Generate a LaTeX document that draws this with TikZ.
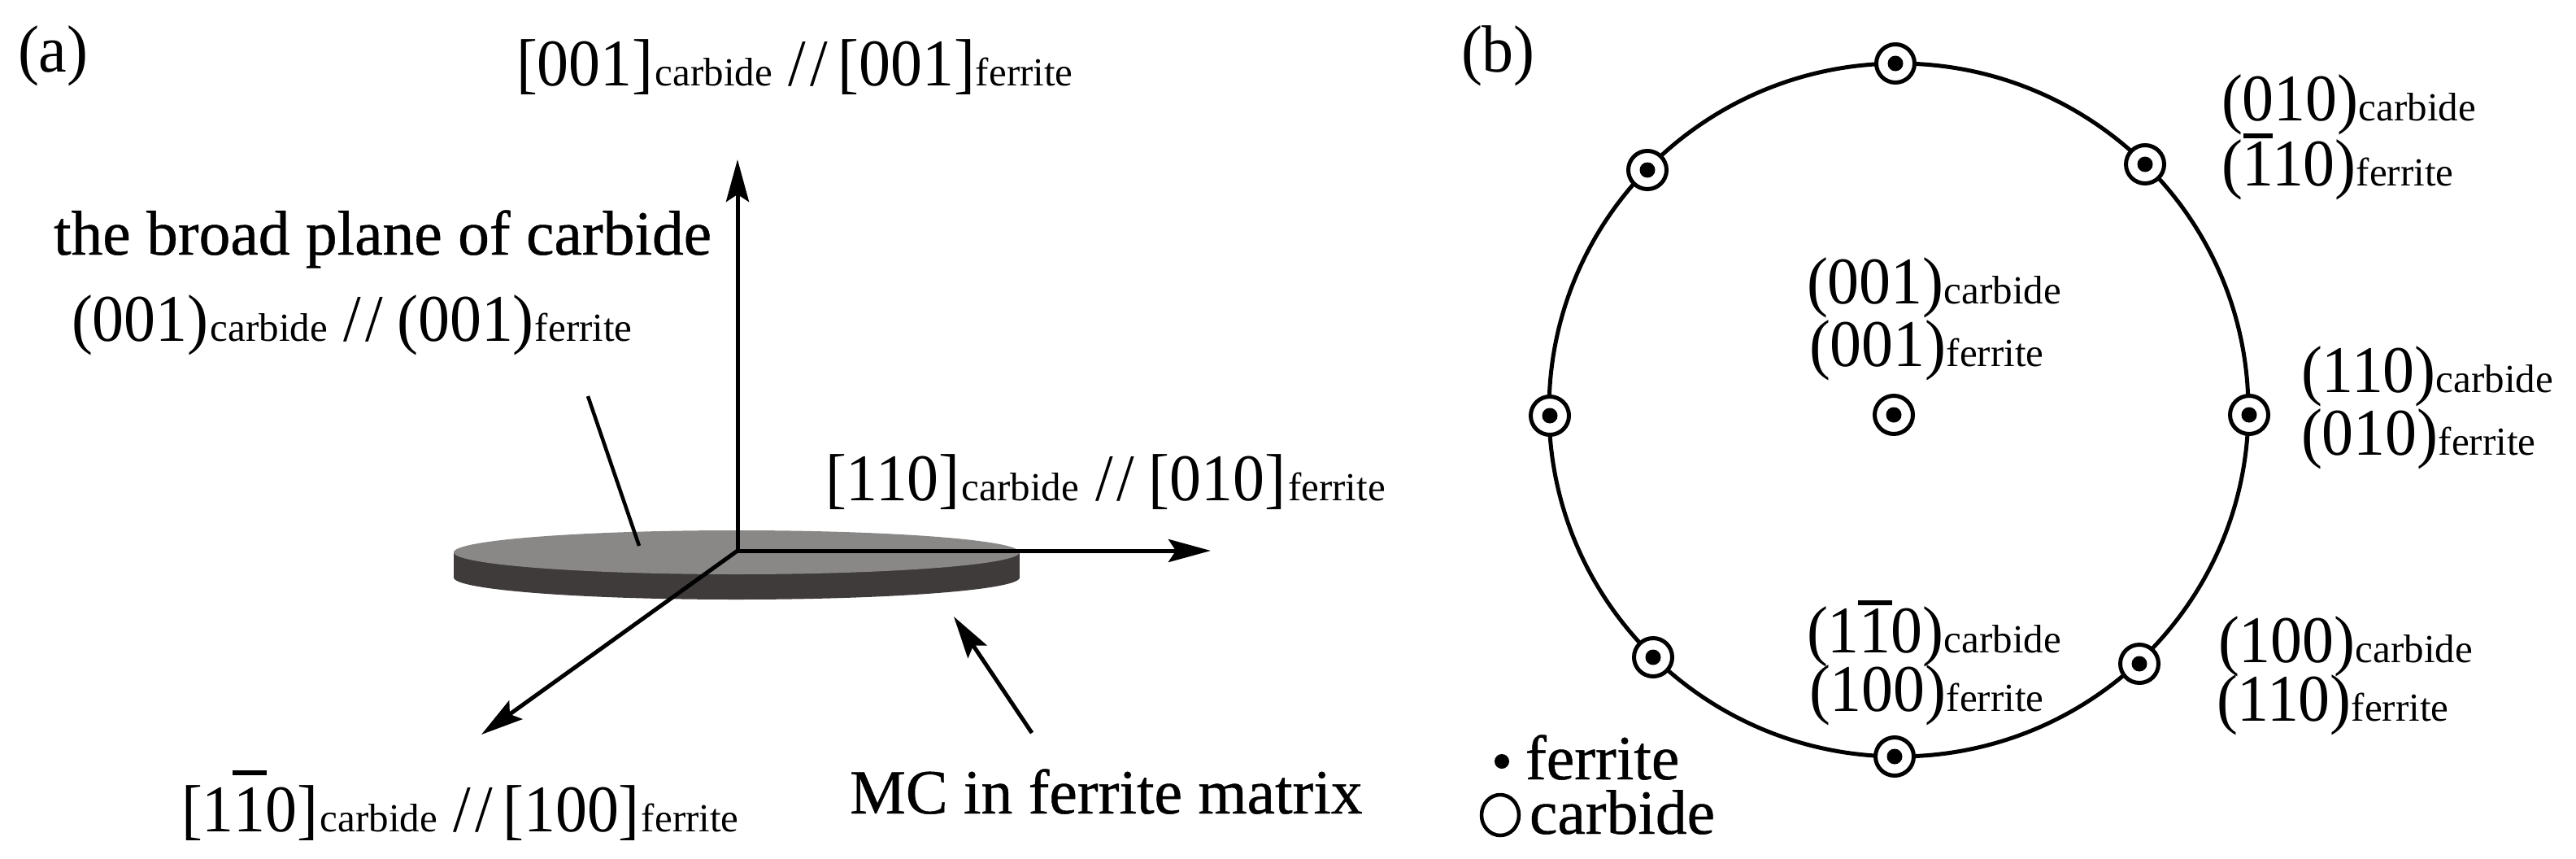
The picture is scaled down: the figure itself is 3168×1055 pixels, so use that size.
\documentclass[tikz,border=0pt]{standalone}
\usepackage{fontspec}
\usetikzlibrary{arrows.meta}
\setmainfont{Liberation Serif}
\newfontfamily\lblfont[FakeStretch=0.95]{Liberation Serif}
\newfontfamily\plnfont[FakeBold=0.6]{Liberation Serif}
\newcommand\mainsz{\lblfont\fontsize{82}{82}\selectfont}
\newcommand\plainsz{\plnfont\fontsize{77.5}{78}\selectfont}
\newcommand\subsz{\rmfamily\fontsize{49}{49}\selectfont}
\newcommand\cbd{{\subsz carbide}}
\newcommand\fer{{\subsz ferrite}}
\newcommand\dsl{\hspace{20pt}/\kern5pt/\hspace{17pt}}
% bar over a digit: raise of its lower edge, its width
\newcommand\ovr[3]{\makebox[0pt][l]{\hspace{\dimexpr19.5pt-#2/2\relax}\raisebox{#1}{\rule{#2}{6pt}}}#3}
\definecolor{disctop}{HTML}{8A8787}
\definecolor{discside}{HTML}{3F3B3B}
\tikzset{
  lbl/.style={anchor=base west,inner sep=0pt,outer sep=0pt,font=\mainsz},
  plain/.style={anchor=base west,inner sep=0pt,outer sep=0pt,font=\plainsz},
  pole/.style={circle,draw=black,fill=white,line width=5pt,minimum size=47pt,inner sep=0pt,
    path picture={\fill[black] (path picture bounding box.center) circle (9.5pt);}},
  axis/.style={line width=5pt,-{Stealth[length=52pt,width=28pt,inset=9pt]}},
  leader/.style={line width=4.5pt},
}
\begin{document}
\begin{tikzpicture}[x=1pt,y=-1pt]
\useasboundingbox (0,0) rectangle (3168,1055);
% panel a: disc
\fill[discside] (906,710) ellipse [x radius=348,y radius=27];
\fill[discside] (558,679) rectangle (1254,710);
\fill[disctop] (906,679) ellipse [x radius=348,y radius=27];
% axes
\coordinate (o) at (907,677);
\coordinate (zt) at (907,196);
\coordinate (xt) at (1489,677);
\coordinate (yt) at (592,903);
\coordinate (leadA) at (723,487);
\coordinate (leadB) at (786,671);
\coordinate (mcA) at (1269,901);
\coordinate (mcB) at (1173,758);
\draw[axis] (o) -- (zt);
\draw[axis] (o) -- (xt);
\draw[axis] (o) -- (yt);
\draw[leader] (leadA) -- (leadB);
\draw[axis] (mcA) -- (mcB);
% panel a: labels
\node[lbl] (la) at (22,88) {(a)};
\node[lbl] (l1) at (635,105) {[001]\hspace{2pt}\cbd\dsl\hspace{-5pt}[001]\hspace{1pt}\fer};
\node[plain] (l2) at (66,313) {the broad plane of carbide};
\node[lbl] (l3) at (88,419) {(001)\hspace{2pt}\cbd\dsl(001)\hspace{1pt}\fer};
\node[lbl] (l4) at (1015,615) {[110]\hspace{2pt}\cbd\dsl[010]\hspace{3pt}\fer};
\node[lbl] (l5) at (223,1022) {[1\ovr{69pt}{42pt}{1}0]\hspace{2pt}\cbd\dsl\hspace{-5pt}[100]\hspace{2pt}\fer};
\node[plain] (l6) at (1045,1000) {MC in ferrite matrix};
% panel b
\draw[line width=5pt] (2335,504) ellipse [x radius=430,y radius=426];
\node[pole] (p1) at (2331,78) {};
\node[pole] (p2) at (2638,202) {};
\node[pole] (p3) at (2766,510) {};
\node[pole] (p4) at (2631,816) {};
\node[pole] (p5) at (2330,930) {};
\node[pole] (p6) at (2033,808) {};
\node[pole] (p7) at (1906,511) {};
\node[pole] (p8) at (2026,209) {};
\node[pole] (p9) at (2329,510) {};
% panel b: labels
\node[lbl] (lb) at (1797,88) {(b)};
\node[lbl] (b1) at (2732,148) {(010)\cbd};
\node[lbl] (b2) at (2732,228) {(\ovr{58pt}{36pt}{1}10)\fer};
\node[lbl] (b3) at (2830,482) {(110)\cbd};
\node[lbl] (b4) at (2830,559) {(010)\fer};
\node[lbl] (b5) at (2222,373) {(001)\cbd};
\node[lbl] (b6) at (2225,450) {(001)\fer};
\node[lbl] (b7) at (2222,802) {(1\ovr{58pt}{42pt}{1}0)\cbd};
\node[lbl] (b8) at (2225,874) {(100)\fer};
\node[lbl] (b9) at (2728,814) {(100)\cbd};
\node[lbl] (b10) at (2726,886) {(110)\fer};
% legend
\fill[black] (1847,936) circle (9pt);
\draw[line width=4.5pt] (1845,1002) ellipse [x radius=23,y radius=25];
\node[plain] (lg1) at (1876,958) {ferrite};
\node[plain] (lg2) at (1881,1025) {carbide};
\end{tikzpicture}
\end{document}
